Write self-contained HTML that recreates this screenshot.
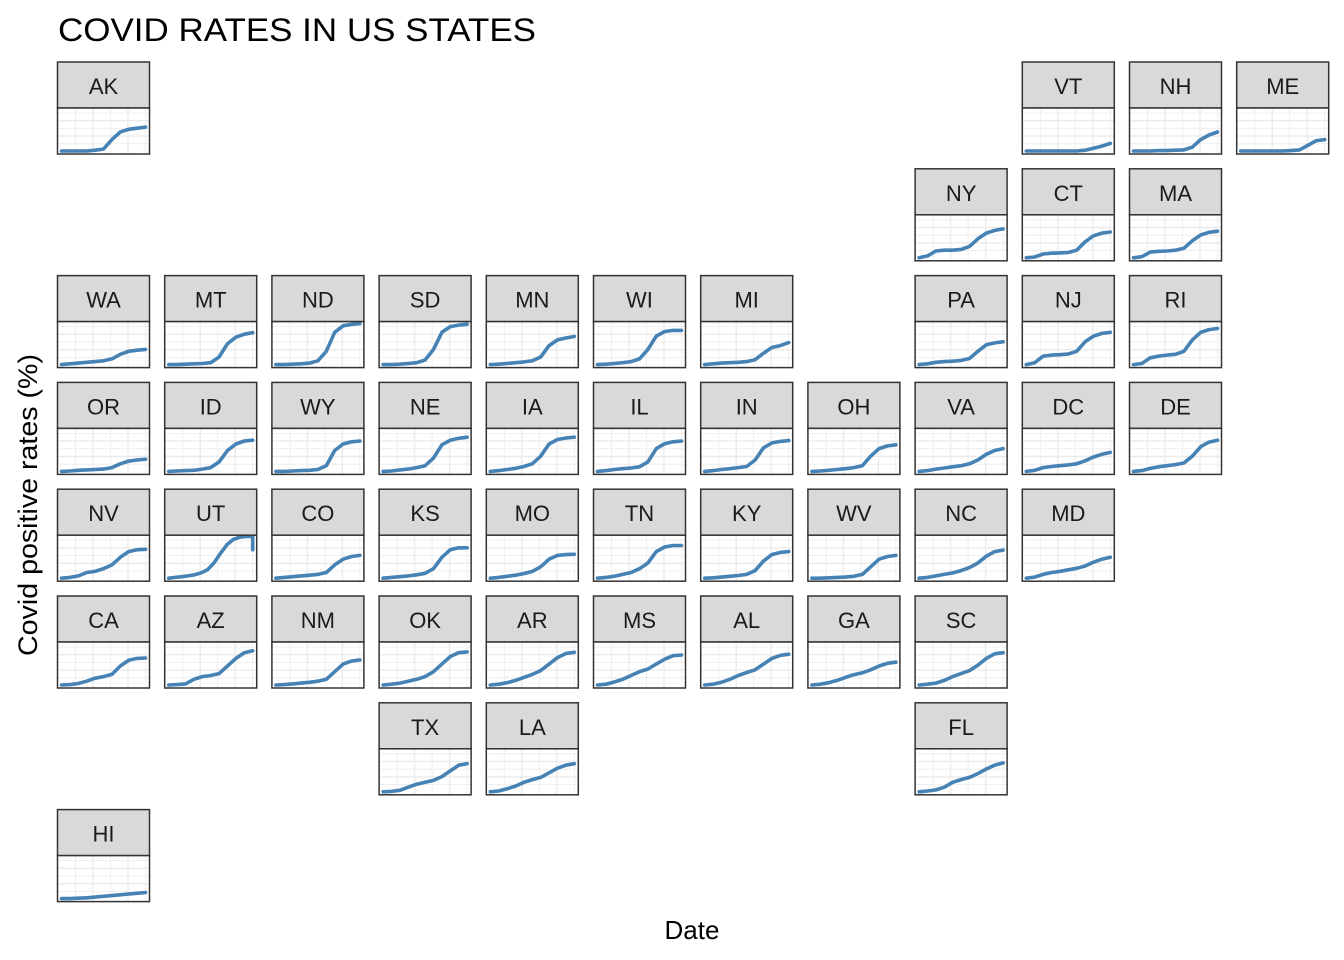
<!DOCTYPE html>
<html><head><meta charset="utf-8"><style>
html,body{margin:0;padding:0;background:#fff;}
svg{display:block;font-family:"Liberation Sans",Arial,sans-serif;}
</style></head><body>
<svg id="chart" width="1344" height="960" viewBox="0 0 1344 960">
<text x="58" y="41" font-size="32" textLength="478" lengthAdjust="spacingAndGlyphs" fill="#000">COVID RATES IN US STATES</text>
<text x="692" y="939" font-size="26" text-anchor="middle" fill="#000">Date</text>
<text transform="translate(37,505) rotate(-90)" font-size="27" text-anchor="middle" textLength="302" lengthAdjust="spacingAndGlyphs" fill="#000">Covid positive rates (%)</text>
<g id="panels"></g>
</svg>
<script>
const states = ["AK","VT","NH","ME","NY","CT","MA","WA","MT","ND","SD","MN","WI","MI","PA","NJ","RI","OR","ID","WY","NE","IA","IL","IN","OH","VA","DC","DE","NV","UT","CO","KS","MO","TN","KY","WV","NC","MD","CA","AZ","NM","OK","AR","MS","AL","GA","SC","TX","LA","FL","HI"];
const cols = [0,9,10,11,8,9,10,0,1,2,3,4,5,6,8,9,10,0,1,2,3,4,5,6,7,8,9,10,0,1,2,3,4,5,6,7,8,9,0,1,2,3,4,5,6,7,8,3,4,8,0];
const rows = [0,0,0,0,1,1,1,2,2,2,2,2,2,2,2,2,2,3,3,3,3,3,3,3,3,3,3,3,4,4,4,4,4,4,4,4,4,4,5,5,5,5,5,5,5,5,5,6,6,6,7];
const rates = [
[0,0,0,0,0.02,0.05,0.3,0.5,0.57,0.6,0.63],
[0,0,0,0,0,0,0,0.02,0.07,0.13,0.2],
[0,0,0,0.01,0.01,0.02,0.03,0.1,0.3,0.42,0.5],
[0,0,0,0,0,0,0.01,0.03,0.15,0.27,0.3],
[0,0.05,0.18,0.2,0.2,0.22,0.3,0.5,0.65,0.72,0.76],
[0,0.02,0.1,0.12,0.13,0.14,0.2,0.42,0.58,0.65,0.68],
[0,0.03,0.15,0.17,0.18,0.2,0.25,0.45,0.6,0.67,0.7],
[0,0.02,0.04,0.06,0.08,0.1,0.15,0.27,0.35,0.38,0.4],
[0,0,0.01,0.02,0.03,0.05,0.2,0.55,0.72,0.8,0.84],
[0,0,0.01,0.02,0.04,0.1,0.35,0.85,1.02,1.06,1.08],
[0,0,0.01,0.03,0.05,0.12,0.4,0.85,1,1.04,1.06],
[0,0.01,0.03,0.05,0.07,0.1,0.2,0.5,0.65,0.7,0.74],
[0,0.01,0.03,0.05,0.08,0.15,0.4,0.75,0.87,0.9,0.9],
[0,0.02,0.04,0.05,0.06,0.08,0.13,0.3,0.45,0.5,0.58],
[0,0.02,0.06,0.08,0.09,0.11,0.16,0.35,0.52,0.57,0.6],
[0,0.05,0.22,0.25,0.26,0.28,0.35,0.6,0.75,0.82,0.85],
[0,0.03,0.18,0.22,0.25,0.27,0.35,0.65,0.85,0.92,0.95],
[0,0.01,0.03,0.04,0.05,0.06,0.1,0.2,0.27,0.3,0.32],
[0,0.01,0.02,0.03,0.06,0.1,0.25,0.55,0.72,0.8,0.82],
[0,0,0.01,0.02,0.03,0.05,0.15,0.55,0.72,0.78,0.8],
[0,0.01,0.04,0.06,0.1,0.15,0.35,0.7,0.82,0.87,0.9],
[0,0.02,0.05,0.08,0.13,0.2,0.4,0.72,0.84,0.88,0.9],
[0,0.02,0.05,0.07,0.09,0.12,0.25,0.6,0.73,0.78,0.8],
[0,0.02,0.05,0.07,0.1,0.13,0.3,0.62,0.75,0.79,0.81],
[0,0.01,0.03,0.05,0.07,0.1,0.15,0.4,0.6,0.67,0.7],
[0,0.02,0.06,0.09,0.12,0.15,0.2,0.3,0.45,0.55,0.6],
[0,0.03,0.1,0.13,0.15,0.17,0.2,0.28,0.38,0.45,0.5],
[0,0.02,0.08,0.12,0.15,0.18,0.22,0.4,0.65,0.77,0.82],
[0,0.02,0.06,0.15,0.18,0.25,0.35,0.55,0.7,0.75,0.76],
[0,0.02,0.04,0.06,0.09,0.14,0.22,0.4,0.65,0.88,1.02,1.08,1.1,1.1,0.75],
[0,0.02,0.04,0.06,0.08,0.1,0.15,0.35,0.5,0.57,0.6],
[0,0.02,0.04,0.06,0.09,0.13,0.25,0.55,0.75,0.8,0.8],
[0,0.02,0.05,0.08,0.12,0.18,0.3,0.5,0.6,0.62,0.63],
[0,0.02,0.05,0.1,0.15,0.25,0.4,0.7,0.82,0.86,0.86],
[0,0.01,0.03,0.05,0.07,0.1,0.2,0.45,0.62,0.68,0.7],
[0,0,0.01,0.02,0.03,0.05,0.1,0.3,0.5,0.57,0.6],
[0,0.02,0.06,0.1,0.14,0.2,0.28,0.4,0.58,0.7,0.74],
[0,0.03,0.1,0.15,0.18,0.22,0.26,0.32,0.42,0.5,0.55],
[0,0.01,0.04,0.1,0.18,0.22,0.28,0.5,0.65,0.7,0.71],
[0,0.01,0.03,0.15,0.22,0.25,0.3,0.5,0.7,0.85,0.9],
[0,0.01,0.03,0.05,0.07,0.1,0.15,0.35,0.55,0.63,0.66],
[0,0.02,0.05,0.1,0.15,0.22,0.35,0.55,0.75,0.85,0.87],
[0,0.02,0.06,0.12,0.2,0.28,0.38,0.55,0.72,0.83,0.86],
[0,0.02,0.08,0.15,0.25,0.35,0.42,0.55,0.68,0.77,0.79],
[0,0.02,0.07,0.15,0.25,0.33,0.4,0.55,0.7,0.78,0.81],
[0,0.02,0.06,0.12,0.2,0.27,0.32,0.4,0.5,0.57,0.6],
[0,0.02,0.05,0.12,0.22,0.3,0.38,0.52,0.7,0.82,0.85],
[0,0.01,0.04,0.12,0.2,0.25,0.3,0.4,0.55,0.7,0.74],
[0,0.02,0.08,0.15,0.25,0.32,0.38,0.5,0.62,0.7,0.74],
[0,0.02,0.05,0.12,0.25,0.32,0.38,0.48,0.6,0.7,0.76],
[0,0,0.01,0.02,0.04,0.06,0.08,0.1,0.12,0.14,0.16]
];
const NS="http://www.w3.org/2000/svg";
const g=document.getElementById('panels');
const PW=92, SH=46, PH=46;
function mk(t,a,p){const e=document.createElementNS(NS,t);for(const k in a)e.setAttribute(k,a[k]);(p||g).appendChild(e);return e;}
function xScale(i,n,x0){return x0+4+(PW-8)*Math.min(i,n-2)/(n-2);}
function yScale(v,y0){return y0+SH+43-v*38;}
states.forEach((s,k)=>{
  const x0=57.5+cols[k]*107.2, y0=62+rows[k]*106.8;
  const grp=mk('g',{});
  
  
  const strip=mk('rect',{x:x0,y:y0,width:PW,height:SH,fill:'#d9d9d9',stroke:'#333','stroke-width':1.5},grp);
  
  
  const lab=mk('text',{x:x0+PW/2,y:y0+SH/2+9,'font-size':22,'text-anchor':'middle',fill:'#1a1a1a'},grp);
  lab.textContent=s;
  
  
  const py=y0+SH;
  mk('rect',{x:x0,y:py,width:PW,height:PH,fill:'#fff'},grp);
  for(let i=0;i<5;i++){const yy=py+5+i*7.7;mk('line',{x1:x0,x2:x0+PW,y1:yy,y2:yy,stroke:'#ebebeb','stroke-width':i%2?1.4:0.8},grp);}
  for(let i=0;i<5;i++){const xx=x0+18+i*17.5;mk('line',{x1:xx,x2:xx,y1:py,y2:py+PH,stroke:'#ebebeb','stroke-width':i%2?1.4:0.8},grp);}
  const vals=rates[k];
  const n=vals.length;
  const pts=vals.map((v,i)=>{
    const xi = (s==='UT') ? xScale(i,n,x0) : x0+4+(PW-8)*i/(n-1);
    return xi.toFixed(1)+','+yScale(v,y0).toFixed(1);
  }).join(' ');
  const line=mk('polyline',{points:pts,fill:'none',stroke:'#4682b4','stroke-width':3.6,'stroke-linejoin':'round','stroke-linecap':'round'},grp);
  
  
  mk('rect',{x:x0,y:py,width:PW,height:PH,fill:'none',stroke:'#333','stroke-width':1.5},grp);
});
</script>
</body></html>
